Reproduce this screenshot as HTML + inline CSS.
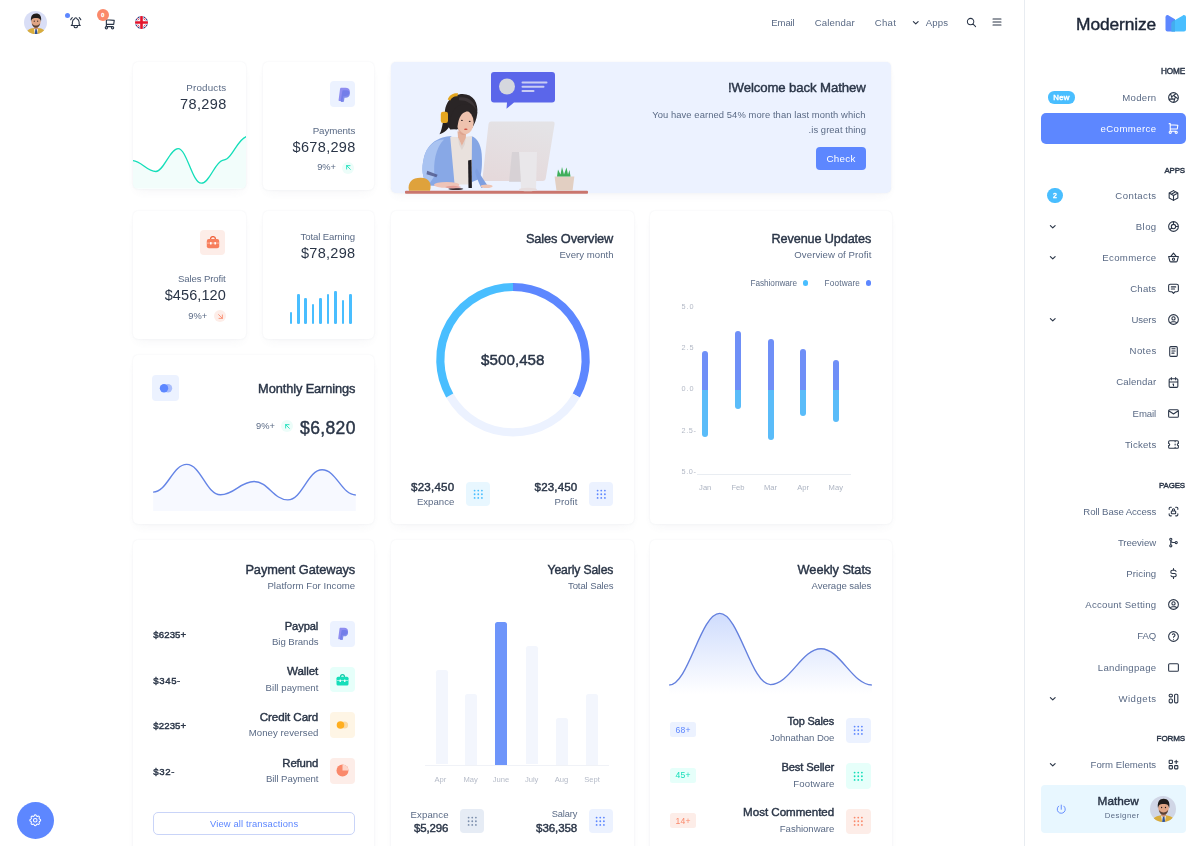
<!DOCTYPE html>
<html lang="en"><head><meta charset="utf-8"><title>Modernize</title><style>html,body{margin:0;padding:0;background:#fff;}
body{width:1200px;height:846px;overflow:hidden;position:relative;font-family:"Liberation Sans",sans-serif;}
.t{position:absolute;white-space:nowrap;margin:0;padding:0;}
#w{position:absolute;left:0;top:0;width:1200px;height:846px;opacity:.999;}
.b{position:absolute;display:block;}
</style></head><body><div id="w">
<svg class="b" style="left:23.5px;top:10.8px;" width="23.0" height="23.0" viewBox="0 0 24 24"><defs><clipPath id="av1"><circle cx="12" cy="12" r="12"/></clipPath></defs>
<g clip-path="url(#av1)"><rect width="24" height="24" fill="#d9def6"/>
<path d="M2.500 24c0-4.200 3.500-6.200 10-6.200s10 2 10 6.200z" fill="#d9ad3c"/>
<path d="M10.200 17.600h4.600l-1 6.400h-2.600z" fill="#f1f1ee"/><path d="M11.900 18.600h1.400l.7 5.400h-2.800z" fill="#2f5196"/>
<path d="M10.300 14h4.400v4.200c-1.200 1.200-3.200 1.200-4.400 0z" fill="#c98e70"/>
<ellipse cx="12.500" cy="11" rx="4.900" ry="5.900" fill="#e0a585"/>
<path d="M7.400 11.200C6.500 5.500 8.800 2.600 12.600 2.600s6.200 2.700 5.100 8.600c-.4-2.600-1.300-3.900-5.200-3.900s-4.700 1.300-5.100 3.900z" fill="#211d1b"/>
<path d="M8.300 12.800c.9 1.700 2.500 2.400 4.200 2.400s3.300-.7 4.200-2.400c0 2.900-1.800 4.600-4.200 4.600s-4.200-1.700-4.200-4.600z" fill="#3b2a22" opacity=".8"/>
<circle cx="10.700" cy="10.600" r=".6" fill="#231c19"/><circle cx="14.300" cy="10.600" r=".6" fill="#231c19"/></g></svg>
<svg class="b" style="left:68.5px;top:15.6px;" width="13.5" height="13.5" viewBox="0 0 24 24"><path d="M10 5a2 2 0 0 1 4 0a7 7 0 0 1 4 6v3a4 4 0 0 0 2 3h-16a4 4 0 0 0 2-3v-3a7 7 0 0 1 4-6 M9 17v1a3 3 0 0 0 6 0v-1 M21 6.727a11.05 11.05 0 0 0-2.794-3.727 M3 6.727a11.05 11.05 0 0 1 2.792-3.727" fill="none" stroke="#2a3547" stroke-width="1.95" stroke-linecap="round" stroke-linejoin="round"/></svg>
<div class="b" style="left:64.8px;top:12.8px;width:5.0px;height:5.0px;background:#5d87ff;border-radius:3px;"></div>
<svg class="b" style="left:103.2px;top:16.9px;" width="13.5" height="13.5" viewBox="0 0 24 24"><path d="M4 19a2 2 0 1 0 4 0a2 2 0 1 0-4 0 M15 19a2 2 0 1 0 4 0a2 2 0 1 0-4 0 M17 17h-11v-14h-2 M6 5l14 1l-1 7h-13" fill="none" stroke="#2a3547" stroke-width="2.0" stroke-linecap="round" stroke-linejoin="round"/></svg>
<div class="b" style="left:96.7px;top:9.3px;width:12.0px;height:12.0px;background:#fa896b;border-radius:6px;"></div>
<div class="t" style="left:101.3px;top:11.8px;font-size:5.16px;line-height:7px;font-weight:400;color:#fff;letter-spacing:-0.12px;-webkit-text-stroke:0.42px #fff;">0</div>
<svg class="b" style="left:134.8px;top:15.5px;" width="13.0" height="13.0" viewBox="0 0 24 24"><defs><clipPath id="fl"><circle cx="12" cy="12" r="12"/></clipPath></defs>
<g clip-path="url(#fl)"><rect width="24" height="24" fill="#1b2a78"/>
<path d="M0 0l24 24M24 0l-24 24" stroke="#fff" stroke-width="3.600"/>
<path d="M0 0l24 24M24 0l-24 24" stroke="#e3142c" stroke-width="1.300"/>
<path d="M12 0v24M0 12h24" stroke="#fff" stroke-width="8"/>
<path d="M12 0v24M0 12h24" stroke="#e3142c" stroke-width="4.800"/></g></svg>
<div class="t" style="left:771.3px;top:16.1px;font-size:9.55px;line-height:13px;font-weight:400;color:#5a6a85;letter-spacing:-0.12px;">Email</div>
<div class="t" style="left:814.8px;top:16.1px;font-size:9.60px;line-height:13px;font-weight:400;color:#5a6a85;letter-spacing:0.13px;">Calendar</div>
<div class="t" style="left:874.8px;top:16.1px;font-size:9.60px;line-height:13px;font-weight:400;color:#5a6a85;letter-spacing:0.27px;">Chat</div>
<svg class="b" style="left:910.5px;top:18.1px;" width="9.5" height="9.5" viewBox="0 0 24 24"><path d="M6 9l6 6l6-6" fill="none" stroke="#2a3547" stroke-width="2.9" stroke-linecap="round" stroke-linejoin="round"/></svg>
<div class="t" style="left:925.8px;top:16.1px;font-size:9.60px;line-height:13px;font-weight:400;color:#5a6a85;letter-spacing:0.11px;">Apps</div>
<svg class="b" style="left:966.0px;top:16.8px;" width="11.0" height="11.0" viewBox="0 0 24 24"><path d="M3 10a7 7 0 1 0 14 0a7 7 0 1 0-14 0 M21 21l-6-6" fill="none" stroke="#2a3547" stroke-width="2.2" stroke-linecap="round" stroke-linejoin="round"/></svg>
<svg class="b" style="left:990.8px;top:16.3px;" width="12.0" height="12.0" viewBox="0 0 24 24"><path d="M4 6l16 0 M4 12l16 0 M4 18l16 0" fill="none" stroke="#2a3547" stroke-width="2.1" stroke-linecap="round" stroke-linejoin="round"/></svg>
<div class="b" style="left:1024.0px;top:0.0px;width:1.0px;height:846.0px;background:#e8ecf1;border-radius:0px;"></div>
<div class="t" style="left:1076.1px;top:11.8px;font-size:17.39px;line-height:24px;font-weight:400;color:#1c2536;letter-spacing:-0.12px;-webkit-text-stroke:0.42px #1c2536;">Modernize</div>
<svg class="b" style="left:1163.5px;top:13.5px;" width="23.0" height="18.0" viewBox="0 0 23 18"><path d="M1.5 3.200C1.500 1.600 3.200 .6 4.600 1.400L11 5.200V17.500H3.500A2 2 0 0 1 1.500 15.500z" fill="#5d87ff"/>
<path d="M22 3.200c0-1.600-1.700-2.600-3.100-1.800L9 7.300c-.9.500-1.500 1.500-1.500 2.600V17.500H20a2 2 0 0 0 2-2z" fill="#49beff"/>
<path d="M11 5.200L9 6.400C8.100 6.900 7.500 7.900 7.500 9V17.500H11z" fill="#3e9fe0" opacity=".55"/></svg>
<div class="t" style="left:1160.9px;top:66.1px;font-size:8.20px;line-height:11px;font-weight:400;color:#2a3547;letter-spacing:-0.12px;-webkit-text-stroke:0.42px #2a3547;">HOME</div>
<div class="t" style="left:1164.4px;top:164.6px;font-size:7.91px;line-height:11px;font-weight:400;color:#2a3547;letter-spacing:-0.12px;-webkit-text-stroke:0.42px #2a3547;">APPS</div>
<div class="t" style="left:1158.9px;top:480.1px;font-size:7.93px;line-height:11px;font-weight:400;color:#2a3547;letter-spacing:-0.12px;-webkit-text-stroke:0.42px #2a3547;">PAGES</div>
<div class="t" style="left:1156.6px;top:733.3px;font-size:8.04px;line-height:11px;font-weight:400;color:#2a3547;letter-spacing:-0.12px;-webkit-text-stroke:0.42px #2a3547;">FORMS</div>
<div class="b" style="left:1041.0px;top:113.0px;width:145.0px;height:30.5px;background:#5d87ff;border-radius:5px;"></div>
<div class="t" style="left:1122.3px;top:90.7px;font-size:9.60px;line-height:13px;font-weight:400;color:#5a6a85;letter-spacing:0.27px;">Modern</div>
<svg class="b" style="left:1166.5px;top:90.9px;" width="13.0" height="13.0" viewBox="0 0 24 24"><path d="M3 12a9 9 0 1 0 18 0a9 9 0 1 0-18 0 M3.6 15h10.55 M6.551 4.938l3.26 10.034 M17.032 4.636l-8.535 6.201 M20.559 14.51l-8.535-6.201 M12.257 20.916l3.261-10.034" fill="none" stroke="#2a3547" stroke-width="2.0" stroke-linecap="round" stroke-linejoin="round"/></svg>
<div class="t" style="left:1100.5px;top:121.6px;font-size:9.60px;line-height:13px;font-weight:400;color:#fff;letter-spacing:0.43px;">eCommerce</div>
<svg class="b" style="left:1166.5px;top:121.8px;" width="13.0" height="13.0" viewBox="0 0 24 24"><path d="M4 19a2 2 0 1 0 4 0a2 2 0 1 0-4 0 M15 19a2 2 0 1 0 4 0a2 2 0 1 0-4 0 M17 17h-11v-14h-2 M6 5l14 1l-1 7h-13" fill="none" stroke="#fff" stroke-width="2.0" stroke-linecap="round" stroke-linejoin="round"/></svg>
<div class="t" style="left:1115.3px;top:188.8px;font-size:9.60px;line-height:13px;font-weight:400;color:#5a6a85;letter-spacing:0.43px;">Contacts</div>
<svg class="b" style="left:1166.5px;top:189.0px;" width="13.0" height="13.0" viewBox="0 0 24 24"><path d="M12 3l8 4.5v9l-8 4.5l-8-4.5v-9l8-4.5 M12 12l8-4.5 M12 12v9 M12 12l-8-4.5 M16 5.25l-8 4.5" fill="none" stroke="#2a3547" stroke-width="2.0" stroke-linecap="round" stroke-linejoin="round"/></svg>
<div class="t" style="left:1135.8px;top:219.9px;font-size:9.60px;line-height:13px;font-weight:400;color:#5a6a85;letter-spacing:0.40px;">Blog</div>
<svg class="b" style="left:1166.5px;top:220.1px;" width="13.0" height="13.0" viewBox="0 0 24 24"><path d="M12 3v5m4 4h5 M8.929 14.582l-3.429 2.918 M8 12a4 4 0 1 0 8 0a4 4 0 1 0-8 0 M3 12a9 9 0 1 0 18 0a9 9 0 1 0-18 0" fill="none" stroke="#2a3547" stroke-width="2.0" stroke-linecap="round" stroke-linejoin="round"/></svg>
<svg class="b" style="left:1048.0px;top:222.2px;" width="9.5" height="9.5" viewBox="0 0 24 24"><path d="M6 9l6 6l6-6" fill="none" stroke="#2a3547" stroke-width="2.9" stroke-linecap="round" stroke-linejoin="round"/></svg>
<div class="t" style="left:1102.3px;top:251.0px;font-size:9.60px;line-height:13px;font-weight:400;color:#5a6a85;letter-spacing:0.34px;">Ecommerce</div>
<svg class="b" style="left:1166.5px;top:251.2px;" width="13.0" height="13.0" viewBox="0 0 24 24"><path d="M7 10l5-6l5 6 M21 10l-2 8a2 2.5 0 0 1-2 2h-10a2 2.5 0 0 1-2-2l-2-8z M10 15a2 2 0 1 0 4 0a2 2 0 1 0-4 0" fill="none" stroke="#2a3547" stroke-width="2.0" stroke-linecap="round" stroke-linejoin="round"/></svg>
<svg class="b" style="left:1048.0px;top:253.2px;" width="9.5" height="9.5" viewBox="0 0 24 24"><path d="M6 9l6 6l6-6" fill="none" stroke="#2a3547" stroke-width="2.9" stroke-linecap="round" stroke-linejoin="round"/></svg>
<div class="t" style="left:1130.2px;top:282.1px;font-size:9.60px;line-height:13px;font-weight:400;color:#5a6a85;letter-spacing:0.23px;">Chats</div>
<svg class="b" style="left:1166.5px;top:282.3px;" width="13.0" height="13.0" viewBox="0 0 24 24"><path d="M8 9h8 M8 13h6 M9 18h-3a3 3 0 0 1-3-3v-8a3 3 0 0 1 3-3h12a3 3 0 0 1 3 3v8a3 3 0 0 1-3 3h-3l-3 3l-3-3z" fill="none" stroke="#2a3547" stroke-width="2.0" stroke-linecap="round" stroke-linejoin="round"/></svg>
<div class="t" style="left:1131.5px;top:313.2px;font-size:9.60px;line-height:13px;font-weight:400;color:#5a6a85;letter-spacing:-0.09px;">Users</div>
<svg class="b" style="left:1166.5px;top:313.4px;" width="13.0" height="13.0" viewBox="0 0 24 24"><path d="M3 12a9 9 0 1 0 18 0a9 9 0 1 0-18 0 M9 10a3 3 0 1 0 6 0a3 3 0 1 0-6 0 M6.168 18.849a4 4 0 0 1 3.832-2.849h4a4 4 0 0 1 3.834 2.855" fill="none" stroke="#2a3547" stroke-width="2.0" stroke-linecap="round" stroke-linejoin="round"/></svg>
<svg class="b" style="left:1048.0px;top:315.4px;" width="9.5" height="9.5" viewBox="0 0 24 24"><path d="M6 9l6 6l6-6" fill="none" stroke="#2a3547" stroke-width="2.9" stroke-linecap="round" stroke-linejoin="round"/></svg>
<div class="t" style="left:1129.6px;top:344.3px;font-size:9.60px;line-height:13px;font-weight:400;color:#5a6a85;letter-spacing:0.38px;">Notes</div>
<svg class="b" style="left:1166.5px;top:344.5px;" width="13.0" height="13.0" viewBox="0 0 24 24"><path d="M5 5a2 2 0 0 1 2-2h10a2 2 0 0 1 2 2v14a2 2 0 0 1-2 2h-10a2 2 0 0 1-2-2z M9 7h6 M9 11h6 M9 15h4" fill="none" stroke="#2a3547" stroke-width="2.0" stroke-linecap="round" stroke-linejoin="round"/></svg>
<div class="t" style="left:1116.3px;top:375.4px;font-size:9.60px;line-height:13px;font-weight:400;color:#5a6a85;letter-spacing:0.13px;">Calendar</div>
<svg class="b" style="left:1166.5px;top:375.6px;" width="13.0" height="13.0" viewBox="0 0 24 24"><path d="M4 7a2 2 0 0 1 2-2h12a2 2 0 0 1 2 2v12a2 2 0 0 1-2 2h-12a2 2 0 0 1-2-2z M16 3v4 M8 3v4 M4 11h16 M11 15h1 M12 15v3" fill="none" stroke="#2a3547" stroke-width="2.0" stroke-linecap="round" stroke-linejoin="round"/></svg>
<div class="t" style="left:1132.6px;top:406.5px;font-size:9.60px;line-height:13px;font-weight:400;color:#5a6a85;letter-spacing:-0.10px;">Email</div>
<svg class="b" style="left:1166.5px;top:406.7px;" width="13.0" height="13.0" viewBox="0 0 24 24"><path d="M3 7a2 2 0 0 1 2-2h14a2 2 0 0 1 2 2v10a2 2 0 0 1-2 2h-14a2 2 0 0 1-2-2v-10z M3 7l9 6l9-6" fill="none" stroke="#2a3547" stroke-width="2.0" stroke-linecap="round" stroke-linejoin="round"/></svg>
<div class="t" style="left:1124.9px;top:437.6px;font-size:9.60px;line-height:13px;font-weight:400;color:#5a6a85;letter-spacing:0.21px;">Tickets</div>
<svg class="b" style="left:1166.5px;top:437.8px;" width="13.0" height="13.0" viewBox="0 0 24 24"><path d="M15 5v2 M15 11v2 M15 17v2 M5 5h14a2 2 0 0 1 2 2v3a2 2 0 0 0 0 4v3a2 2 0 0 1-2 2h-14a2 2 0 0 1-2-2v-3a2 2 0 0 0 0-4v-3a2 2 0 0 1 2-2" fill="none" stroke="#2a3547" stroke-width="2.0" stroke-linecap="round" stroke-linejoin="round"/></svg>
<div class="t" style="left:1083.3px;top:504.7px;font-size:9.60px;line-height:13px;font-weight:400;color:#5a6a85;letter-spacing:-0.08px;">Roll Base Access</div>
<svg class="b" style="left:1166.5px;top:504.9px;" width="13.0" height="13.0" viewBox="0 0 24 24"><path d="M4 8v-2a2 2 0 0 1 2-2h2 M4 16v2a2 2 0 0 0 2 2h2 M16 4h2a2 2 0 0 1 2 2v2 M16 20h2a2 2 0 0 0 2-2v-2 M8 12a1 1 0 0 1 1-1h6a1 1 0 0 1 1 1v3a1 1 0 0 1-1 1h-6a1 1 0 0 1-1-1z M10 11v-2a2 2 0 1 1 4 0v2" fill="none" stroke="#2a3547" stroke-width="2.0" stroke-linecap="round" stroke-linejoin="round"/></svg>
<div class="t" style="left:1117.9px;top:535.7px;font-size:9.60px;line-height:13px;font-weight:400;color:#5a6a85;letter-spacing:-0.04px;">Treeview</div>
<svg class="b" style="left:1166.5px;top:535.9px;" width="13.0" height="13.0" viewBox="0 0 24 24"><path d="M5 18a2 2 0 1 0 4 0a2 2 0 1 0-4 0 M5 6a2 2 0 1 0 4 0a2 2 0 1 0-4 0 M15 12a2 2 0 1 0 4 0a2 2 0 1 0-4 0 M7 8l0 8 M7 8a4 4 0 0 0 4 4h4" fill="none" stroke="#2a3547" stroke-width="2.0" stroke-linecap="round" stroke-linejoin="round"/></svg>
<div class="t" style="left:1126.2px;top:566.9px;font-size:9.60px;line-height:13px;font-weight:400;color:#5a6a85;letter-spacing:0.11px;">Pricing</div>
<svg class="b" style="left:1166.5px;top:567.1px;" width="13.0" height="13.0" viewBox="0 0 24 24"><path d="M16.7 8a3 3 0 0 0-2.7-2h-4a3 3 0 0 0 0 6h4a3 3 0 0 1 0 6h-4a3 3 0 0 1-2.7-2 M12 3v3m0 12v3" fill="none" stroke="#2a3547" stroke-width="2.0" stroke-linecap="round" stroke-linejoin="round"/></svg>
<div class="t" style="left:1085.3px;top:598.2px;font-size:9.60px;line-height:13px;font-weight:400;color:#5a6a85;letter-spacing:0.26px;">Account Setting</div>
<svg class="b" style="left:1166.5px;top:598.4px;" width="13.0" height="13.0" viewBox="0 0 24 24"><path d="M3 12a9 9 0 1 0 18 0a9 9 0 1 0-18 0 M9 10a3 3 0 1 0 6 0a3 3 0 1 0-6 0 M6.168 18.849a4 4 0 0 1 3.832-2.849h4a4 4 0 0 1 3.834 2.855" fill="none" stroke="#2a3547" stroke-width="2.0" stroke-linecap="round" stroke-linejoin="round"/></svg>
<div class="t" style="left:1137.3px;top:629.3px;font-size:9.57px;line-height:13px;font-weight:400;color:#5a6a85;letter-spacing:-0.12px;">FAQ</div>
<svg class="b" style="left:1166.5px;top:629.5px;" width="13.0" height="13.0" viewBox="0 0 24 24"><path d="M3 12a9 9 0 1 0 18 0a9 9 0 1 0-18 0 M12 17l0 .01 M12 13.5a1.5 1.5 0 0 1 1-1.5a2.6 2.6 0 1 0-3-4" fill="none" stroke="#2a3547" stroke-width="2.0" stroke-linecap="round" stroke-linejoin="round"/></svg>
<div class="t" style="left:1097.8px;top:660.9px;font-size:9.60px;line-height:13px;font-weight:400;color:#5a6a85;letter-spacing:0.29px;">Landingpage</div>
<svg class="b" style="left:1166.5px;top:661.1px;" width="13.0" height="13.0" viewBox="0 0 24 24"><path d="M3 7a2 2 0 0 1 2-2h14a2 2 0 0 1 2 2v10a2 2 0 0 1-2 2h-14a2 2 0 0 1-2-2z" fill="none" stroke="#2a3547" stroke-width="2.0" stroke-linecap="round" stroke-linejoin="round"/></svg>
<div class="t" style="left:1118.4px;top:691.8px;font-size:9.60px;line-height:13px;font-weight:400;color:#5a6a85;letter-spacing:0.52px;">Widgets</div>
<svg class="b" style="left:1166.5px;top:692.0px;" width="13.0" height="13.0" viewBox="0 0 24 24"><path d="M4 6a2 2 0 0 1 2-2h2a2 2 0 0 1 2 2v1a2 2 0 0 1-2 2h-2a2 2 0 0 1-2-2z M4 15a2 2 0 0 1 2-2h2a2 2 0 0 1 2 2v3a2 2 0 0 1-2 2h-2a2 2 0 0 1-2-2z M14 6a2 2 0 0 1 2-2h2a2 2 0 0 1 2 2v12a2 2 0 0 1-2 2h-2a2 2 0 0 1-2-2z" fill="none" stroke="#2a3547" stroke-width="2.0" stroke-linecap="round" stroke-linejoin="round"/></svg>
<svg class="b" style="left:1048.0px;top:694.0px;" width="9.5" height="9.5" viewBox="0 0 24 24"><path d="M6 9l6 6l6-6" fill="none" stroke="#2a3547" stroke-width="2.9" stroke-linecap="round" stroke-linejoin="round"/></svg>
<div class="t" style="left:1090.5px;top:758.1px;font-size:9.60px;line-height:13px;font-weight:400;color:#5a6a85;letter-spacing:0.05px;">Form Elements</div>
<svg class="b" style="left:1166.5px;top:758.3px;" width="13.0" height="13.0" viewBox="0 0 24 24"><path d="M4 5a1 1 0 0 1 1-1h4a1 1 0 0 1 1 1v4a1 1 0 0 1-1 1h-4a1 1 0 0 1-1-1z M4 15a1 1 0 0 1 1-1h4a1 1 0 0 1 1 1v4a1 1 0 0 1-1 1h-4a1 1 0 0 1-1-1z M14 15a1 1 0 0 1 1-1h4a1 1 0 0 1 1 1v4a1 1 0 0 1-1 1h-4a1 1 0 0 1-1-1z M14 7l6 0 M17 4l0 6" fill="none" stroke="#2a3547" stroke-width="2.0" stroke-linecap="round" stroke-linejoin="round"/></svg>
<svg class="b" style="left:1048.0px;top:760.3px;" width="9.5" height="9.5" viewBox="0 0 24 24"><path d="M6 9l6 6l6-6" fill="none" stroke="#2a3547" stroke-width="2.9" stroke-linecap="round" stroke-linejoin="round"/></svg>
<div class="b" style="left:1047.5px;top:91.3px;width:27.5px;height:12.4px;background:#49beff;border-radius:6.2px;"></div>
<div class="t" style="left:1053.3px;top:91.9px;font-size:7.80px;line-height:11px;font-weight:400;color:#fff;letter-spacing:0.27px;-webkit-text-stroke:0.42px #fff;">New</div>
<div class="b" style="left:1047.0px;top:187.6px;width:15.6px;height:15.6px;background:#49beff;border-radius:7.8px;"></div>
<div class="t" style="left:1052.9px;top:190.5px;font-size:6.95px;line-height:10px;font-weight:400;color:#fff;letter-spacing:-0.12px;-webkit-text-stroke:0.42px #fff;">2</div>
<div class="b" style="left:1041.0px;top:785.0px;width:144.5px;height:47.5px;background:#e8f7ff;border-radius:4px;"></div>
<div class="t" style="left:1097.6px;top:793.1px;font-size:11.80px;line-height:17px;font-weight:400;color:#2a3547;letter-spacing:-0.01px;-webkit-text-stroke:0.42px #2a3547;">Mathew</div>
<div class="t" style="left:1104.8px;top:810.1px;font-size:7.80px;line-height:11px;font-weight:400;color:#5a6a85;letter-spacing:0.43px;">Designer</div>
<svg class="b" style="left:1150.0px;top:796.0px;" width="26.0" height="26.0" viewBox="0 0 24 24"><defs><clipPath id="av2"><circle cx="12" cy="12" r="12"/></clipPath></defs>
<g clip-path="url(#av2)"><rect width="24" height="24" fill="#d0d6e6"/>
<path d="M2.500 24c0-4.200 3.500-6.200 10-6.200s10 2 10 6.200z" fill="#d9ad3c"/>
<path d="M10.200 17.600h4.600l-1 6.400h-2.600z" fill="#f1f1ee"/><path d="M11.900 18.600h1.400l.7 5.400h-2.800z" fill="#2f5196"/>
<path d="M10.300 14h4.400v4.200c-1.200 1.200-3.200 1.200-4.400 0z" fill="#c98e70"/>
<ellipse cx="12.500" cy="11" rx="4.900" ry="5.900" fill="#e0a585"/>
<path d="M7.400 11.200C6.500 5.500 8.800 2.600 12.600 2.600s6.200 2.700 5.100 8.600c-.4-2.600-1.300-3.900-5.200-3.900s-4.700 1.300-5.100 3.900z" fill="#211d1b"/>
<path d="M8.300 12.800c.9 1.700 2.500 2.400 4.200 2.400s3.300-.7 4.200-2.400c0 2.900-1.800 4.600-4.200 4.600s-4.200-1.700-4.200-4.600z" fill="#3b2a22" opacity=".8"/>
<circle cx="10.700" cy="10.600" r=".6" fill="#231c19"/><circle cx="14.300" cy="10.600" r=".6" fill="#231c19"/></g></svg>
<svg class="b" style="left:1054.8px;top:803.2px;" width="12.5" height="12.5" viewBox="0 0 24 24"><path d="M7 6a7.75 7.75 0 1 0 10 0 M12 4l0 8" fill="none" stroke="#5d87ff" stroke-width="1.8" stroke-linecap="round" stroke-linejoin="round"/></svg>
<div class="b" style="left:16.5px;top:801.5px;width:37.0px;height:37.0px;background:#5d87ff;border-radius:18.5px;"></div>
<svg class="b" style="left:27.8px;top:812.8px;" width="14.5" height="14.5" viewBox="0 0 24 24"><path d="M10.325 4.317c.426-1.756 2.924-1.756 3.35 0a1.724 1.724 0 0 0 2.573 1.066c1.543-.94 3.31.826 2.37 2.37a1.724 1.724 0 0 0 1.065 2.572c1.756.426 1.756 2.924 0 3.35a1.724 1.724 0 0 0-1.066 2.573c.94 1.543-.826 3.31-2.37 2.37a1.724 1.724 0 0 0-2.572 1.065c-.426 1.756-2.924 1.756-3.35 0a1.724 1.724 0 0 0-2.573-1.066c-1.543.94-3.31-.826-2.37-2.37a1.724 1.724 0 0 0-1.065-2.572c-1.756-.426-1.756-2.924 0-3.35a1.724 1.724 0 0 0 1.066-2.573c-.94-1.543.826-3.31 2.37-2.37c1 .608 2.296.07 2.572-1.065z M9 12a3 3 0 1 0 6 0a3 3 0 0 0-6 0" fill="none" stroke="#fff" stroke-width="1.7" stroke-linecap="round" stroke-linejoin="round"/></svg>
<div class="b" style="left:133.0px;top:62.0px;width:113.0px;height:126.5px;background:#fff;border-radius:5px;box-shadow:0 0 2px rgba(145,158,171,.16),0 5px 12px -4px rgba(145,158,171,.11);"></div>
<div class="t" style="left:186.2px;top:81.0px;font-size:9.80px;line-height:14px;font-weight:400;color:#5a6a85;letter-spacing:0.20px;">Products</div>
<div class="t" style="left:180.0px;top:94.0px;font-size:14.50px;line-height:20px;font-weight:400;color:#2a3547;letter-spacing:0.39px;">78,298</div>
<svg class="b" style="left:133.0px;top:130.0px;border-radius:0 0 5px 5px;overflow:hidden;" width="113.0" height="58.5" viewBox="0 0 113 58.5"><path d="M-0.4 30.6 C8 30.6 14 41.5 22.9 41.5 C30.5 41.5 37 18.7 45.1 18.7 C54 18.7 59 53.2 68.4 53.2 C76.5 53.2 82 32 89.5 30.3 C91.5 29.9 92.8 29.5 94 28.7 C100.5 24.5 105 9.5 113.2 6.6 L113.2 58.5 L-0.4 58.5Z" fill="#13deb9" opacity=".055"/><path d="M-0.4 30.6 C8 30.6 14 41.5 22.9 41.5 C30.5 41.5 37 18.7 45.1 18.7 C54 18.7 59 53.2 68.4 53.2 C76.5 53.2 82 32 89.5 30.3 C91.5 29.9 92.8 29.5 94 28.7 C100.5 24.5 105 9.5 113.2 6.6" fill="none" stroke="#13deb9" stroke-width="1.3"/></svg>
<div class="b" style="left:262.5px;top:62.0px;width:111.5px;height:127.5px;background:#fff;border-radius:5px;box-shadow:0 0 2px rgba(145,158,171,.16),0 5px 12px -4px rgba(145,158,171,.11);"></div>
<div class="b" style="left:329.7px;top:81.4px;width:25.6px;height:25.8px;background:#ecf2ff;border-radius:4px;"></div>
<svg class="b" style="left:335.5px;top:86.5px;" width="15.0" height="16.0" viewBox="0 0 15 16"><path d="M4 2.200c0-.8.600-1.400 1.400-1.400H9.500c2.700 0 4.500 1.500 4.300 4c-.2 2.800-2.100 4.400-5 4.400H7.300L6.600 13c-.1.600-.6 1-1.200 1H3.500c-.6 0-1-.5-.9-1.100z" fill="#8e8df0"/>
<path d="M6.300 4.500c0-.7.500-1.200 1.200-1.200H10.500c2.200 0 3.600 1.300 3.400 3.500c-.2 2.500-1.900 3.900-4.400 3.900H8.500L8 14c-.1.600-.6 1-1.200 1H5.500c-.5 0-.9-.5-.8-1z" fill="#6f7be8" opacity=".85"/></svg>
<div class="t" style="left:312.7px;top:123.5px;font-size:9.77px;line-height:14px;font-weight:400;color:#5a6a85;letter-spacing:-0.12px;">Payments</div>
<div class="t" style="left:292.6px;top:136.5px;font-size:14.50px;line-height:20px;font-weight:400;color:#2a3547;letter-spacing:0.32px;">$678,298</div>
<div class="t" style="left:317.2px;top:161.3px;font-size:9.30px;line-height:13px;font-weight:400;color:#5a6a85;letter-spacing:-0.04px;">9%+</div>
<div class="b" style="left:342.3px;top:161.8px;width:12.0px;height:12.0px;background:#ecfdf9;border-radius:6px;"></div>
<svg class="b" style="left:343.8px;top:163.3px;" width="9.0" height="9.0" viewBox="0 0 24 24"><path d="M7 7l10 10 M16 7l-9 0l0 9" fill="none" stroke="#13deb9" stroke-width="2.3" stroke-linecap="round" stroke-linejoin="round"/></svg>
<div class="b" style="left:391.0px;top:62.0px;width:500.3px;height:130.9px;background:#ecf2ff;border-radius:5px;box-shadow:0 0 2px rgba(145,158,171,.16),0 5px 12px -4px rgba(145,158,171,.11);"></div>
<div class="t" style="left:728.0px;top:79.2px;font-size:13.20px;line-height:18px;font-weight:400;color:#2a3547;letter-spacing:-0.11px;-webkit-text-stroke:0.42px #2a3547;">!Welcome back Mathew</div>
<div class="t" style="left:652.2px;top:108.1px;font-size:9.40px;line-height:13px;font-weight:400;color:#5a6a85;letter-spacing:0.09px;">You have earned 54% more than last month which</div>
<div class="t" style="left:808.6px;top:122.5px;font-size:9.40px;line-height:13px;font-weight:400;color:#5a6a85;letter-spacing:0.07px;">.is great thing</div>
<div class="b" style="left:815.8px;top:146.9px;width:50.2px;height:23.4px;background:#5d87ff;border-radius:4px;"></div>
<div class="t" style="left:826.5px;top:151.5px;font-size:9.80px;line-height:14px;font-weight:400;color:#fff;letter-spacing:0.26px;">Check</div>
<svg class="b" style="left:400.0px;top:66.0px;" width="200.0" height="130.0" viewBox="0 0 200 130"><rect x="5" y="124.80000000000001" width="183" height="3" rx="1" fill="#c9756d"/><path d="M95.0 6.0 H152.0 a3 3 0 0 1 3 3 V33.5 a3 3 0 0 1 -3 3 H114.0 L106.5 42.8 L107.0 36.5 H94.0 a3 3 0 0 1 -3 -3 V9.0 a3 3 0 0 1 3 -3z" fill="#5b66ea"/><circle cx="107" cy="20.5" r="8" fill="#d5d7de"/><rect x="121.5" y="15.5" width="26" height="2" rx="1" fill="#c9ccf3"/><rect x="121.5" y="19.799999999999997" width="23" height="2" rx="1" fill="#c9ccf3"/><rect x="121.5" y="24.099999999999994" width="13" height="2" rx="1" fill="#c9ccf3"/><defs><linearGradient id="mg" x1="0.6" y1="0" x2="0.3" y2="1"><stop offset="0" stop-color="#e4e3e6"/><stop offset="1" stop-color="#e5d9db"/></linearGradient></defs><path d="M91.0 55.5 L153.0 55.5 Q155.0 55.5 154.6 58.0 L145.8 112.0 Q145.4 115.0 142.8 115.0 L84.5 115.0 Q82.0 115.0 82.5 112.5 L88.5 58.0 Q88.8 55.5 91.0 55.5z" fill="url(#mg)"/><path d="M119.0 86.0 L137.0 86.0 L136.0 123.0 L121.0 123.0z" fill="#e9e7ea"/><path d="M112.0 86.0 L119.0 86.0 L121.0 116.0 L109.0 116.0z" fill="#d2cdd2" opacity=".7"/><ellipse cx="128" cy="123.5" rx="9" ry="1.800" fill="#e6ddde"/><path d="M48.0 45.0 C41.5 52.8 43.4 61.9 39.5 68.2 C46.7 66.1 50.6 60.6 50.9 54.8 Z" fill="#231f20" opacity="1"/><path d="M46.7 58.0 C42.1 45.0 46.0 31.0 59.0 28.4 C72.0 26.2 78.8 35.9 77.2 47.9 C76.7 53.1 74.6 58.0 72.0 62.2 L50.2 63.5 Z" fill="#2a2526" opacity="1"/><path d="M51.2 70.0 C39.5 70.8 27.8 76.2 23.9 91.8 C21.3 102.2 22.0 112.6 27.8 119.4 L55.4 120.7 C54.1 103.5 53.6 84.0 51.2 70.0 Z" fill="#88a8e6" opacity="1"/><path d="M44.1 73.4 C35.6 81.4 33.0 97.0 34.6 110.0 L28.1 119.4 C22.0 112.6 21.3 102.2 23.9 91.8 C26.5 80.1 34.6 73.6 44.1 73.4 Z" fill="#a9c3f1" opacity="1"/><path d="M71.0 70.0 C78.5 72.1 81.9 81.4 81.9 91.8 C82.3 102.2 81.1 110.0 79.3 112.9 L72.0 115.9 C69.9 97.0 69.9 84.0 71.0 70.0 Z" fill="#86a6e4" opacity="1"/><path d="M50.2 70.8 L58.0 71.0 L61.9 80.1 L65.8 70.8 L72.0 70.0 L71.6 118.5 L54.6 118.5 Z" fill="#e9e1dd" opacity="1"/><path d="M58.0 71.0 L61.9 80.1 L65.8 70.8 L64.9 78.2 L61.9 84.0 L59.0 78.2 Z" fill="#d9cfcb" opacity="0.7"/><path d="M68.1 94.4 L71.5 93.8 L71.9 122.0 L68.5 122.0 Z" fill="#1f1d22" opacity="1"/><path d="M57.5 65.2 L66.3 66.5 L65.8 71.7 L61.9 79.9 L58.0 71.3 Z" fill="#e4b19c" opacity="1"/><ellipse cx="65.1" cy="56.5" rx="8.6" ry="11.7" fill="#eec2ae" opacity="1"/><path d="M57.7 61.9 C59.0 68.4 62.9 70.0 65.8 68.2 C62.9 67.4 59.7 64.8 57.7 61.9 Z" fill="#d99a86" opacity="0.6"/><path d="M50.9 62.6 C48.9 51.5 52.5 40.8 61.9 38.5 C68.4 37.2 75.1 39.8 77.5 47.3 C72.3 44.0 67.1 44.5 63.2 47.1 C59.0 50.2 58.0 56.7 57.2 63.5 Z" fill="#2a2526" opacity="1"/><path d="M59.0 31.4 C66.8 30.1 74.6 34.6 76.2 43.7 C72.0 37.2 65.5 34.0 59.0 34.3 Z" fill="#4a4445" opacity="0.55"/><ellipse cx="61.9" cy="54.4" rx="0.9" ry="0.7" fill="#3a2a2a" opacity="1"/><ellipse cx="69.7" cy="55.4" rx="0.9" ry="0.7" fill="#3a2a2a" opacity="1"/><ellipse cx="65.8" cy="63.2" rx="1.8" ry="0.8" fill="#cf4a3d" opacity="1"/><path d="M47.7 33.6 C49.1 28.9 53.8 26.5 58.0 27.3 L57.5 30.2 C54.1 29.9 51.2 31.5 50.2 34.6 Z" fill="#e3a620" opacity="1"/><rect x="40.8" y="45.7" width="7.2" height="11.2" rx="2.200" fill="#e5a722"/><path d="M76.7 102.2 C80.9 110.0 84.8 115.5 87.6 119.4 L81.4 122.0 C78.5 116.8 75.9 110.0 75.1 105.1 Z" fill="#7f9fe0" opacity="1"/><ellipse cx="86.6" cy="120.2" rx="6.0" ry="1.7" fill="#efc4b3" opacity="1"/><path d="M27.2 104.8 L37.6 108.7 L36.4 111.3 L26.5 108.2 Z" fill="#4d5588" opacity="0.8"/><ellipse cx="55.8" cy="123.0" rx="7.5" ry="0.9" fill="#3a2f35" opacity="1"/><ellipse cx="46.7" cy="118.9" rx="12.7" ry="2.9" fill="#efc4b8" opacity="1"/><ellipse cx="53.2" cy="121.1" rx="7.8" ry="1.3" fill="#e2938c" opacity="0.8"/><path d="M9.0 124.8 C7.0 116.0 13.0 111.5 21.0 111.8 C29.0 112.0 32.0 117.0 30.0 124.8z" fill="#dfa23c"/><path d="M154.6 110.5 L174.3 110.5 L172.5 124.8 L156.5 124.8z" fill="#e2cfc2"/><path d="M157.0 110.5 L158.0 103.5 L160.5 108.5 L162.0 101.0 L164.0 108.5 L166.5 101.5 L168.0 108.5 L169.5 104.0 L170.5 110.5z" fill="#3fae5a"/></svg>
<div class="b" style="left:133.0px;top:210.5px;width:113.0px;height:128.5px;background:#fff;border-radius:5px;box-shadow:0 0 2px rgba(145,158,171,.16),0 5px 12px -4px rgba(145,158,171,.11);"></div>
<div class="b" style="left:200.2px;top:230.3px;width:25.1px;height:25.0px;background:#fdede8;border-radius:4px;"></div>
<svg class="b" style="left:206.0px;top:236.0px;" width="14.0" height="13.0" viewBox="0 0 14 13"><path d="M4.500 3.200C4.500 1.600 5.600 .6 7 .6s2.500 1 2.500 2.600" fill="none" stroke="#f0643f" stroke-width="1.300"/>
<rect x=".8" y="3" width="12.400" height="9.200" rx="2" fill="#f77e5c"/>
<path d="M.8 6.500h12.400v1.200H.8z" fill="#fbb29b" opacity=".9"/><rect x="4" y="6" width="1.600" height="2.600" rx=".6" fill="#fff"/><rect x="8.400" y="6" width="1.600" height="2.600" rx=".6" fill="#fff"/></svg>
<div class="t" style="left:178.0px;top:272.3px;font-size:9.61px;line-height:13px;font-weight:400;color:#5a6a85;letter-spacing:-0.12px;">Sales Profit</div>
<div class="t" style="left:164.7px;top:285.0px;font-size:14.50px;line-height:20px;font-weight:400;color:#2a3547;letter-spacing:0.09px;">$456,120</div>
<div class="t" style="left:188.3px;top:309.9px;font-size:9.30px;line-height:13px;font-weight:400;color:#5a6a85;letter-spacing:0.06px;">9%+</div>
<div class="b" style="left:214.0px;top:310.4px;width:12.0px;height:12.0px;background:#fdede8;border-radius:6px;"></div>
<svg class="b" style="left:215.5px;top:311.9px;" width="9.0" height="9.0" viewBox="0 0 24 24"><path d="M7 7l10 10 M17 8l0 9l-9 0" fill="none" stroke="#fa896b" stroke-width="2.3" stroke-linecap="round" stroke-linejoin="round"/></svg>
<div class="b" style="left:262.5px;top:210.5px;width:111.5px;height:128.5px;background:#fff;border-radius:5px;box-shadow:0 0 2px rgba(145,158,171,.16),0 5px 12px -4px rgba(145,158,171,.11);"></div>
<div class="t" style="left:300.5px;top:230.1px;font-size:9.60px;line-height:13px;font-weight:400;color:#5a6a85;letter-spacing:-0.12px;">Total Earning</div>
<div class="t" style="left:301.0px;top:243.0px;font-size:14.50px;line-height:20px;font-weight:400;color:#2a3547;letter-spacing:0.28px;">$78,298</div>
<div class="b" style="left:289.5px;top:312.2px;width:2.6px;height:11.4px;background:#49beff;border-radius:1.3px;"></div>
<div class="b" style="left:297.0px;top:294.3px;width:2.6px;height:29.3px;background:#49beff;border-radius:1.3px;"></div>
<div class="b" style="left:304.4px;top:297.5px;width:2.6px;height:26.1px;background:#49beff;border-radius:1.3px;"></div>
<div class="b" style="left:311.9px;top:303.6px;width:2.6px;height:20.0px;background:#49beff;border-radius:1.3px;"></div>
<div class="b" style="left:319.4px;top:297.5px;width:2.6px;height:26.1px;background:#49beff;border-radius:1.3px;"></div>
<div class="b" style="left:326.8px;top:294.3px;width:2.6px;height:29.3px;background:#49beff;border-radius:1.3px;"></div>
<div class="b" style="left:334.3px;top:291.4px;width:2.6px;height:32.2px;background:#49beff;border-radius:1.3px;"></div>
<div class="b" style="left:341.8px;top:300.3px;width:2.6px;height:23.3px;background:#49beff;border-radius:1.3px;"></div>
<div class="b" style="left:349.3px;top:294.3px;width:2.6px;height:29.3px;background:#49beff;border-radius:1.3px;"></div>
<div class="b" style="left:133.0px;top:355.0px;width:241.0px;height:169.0px;background:#fff;border-radius:5px;box-shadow:0 0 2px rgba(145,158,171,.16),0 5px 12px -4px rgba(145,158,171,.11);"></div>
<div class="b" style="left:152.4px;top:375.3px;width:26.4px;height:26.0px;background:#ecf2ff;border-radius:4px;"></div>
<svg class="b" style="left:158.5px;top:383.0px;" width="14.0" height="10.5" viewBox="0 0 14 10.500"><circle cx="9" cy="5.200" r="4.200" fill="#a9bdfb"/><circle cx="5" cy="5.200" r="4.200" fill="#5d87ff"/></svg>
<div class="t" style="left:258.1px;top:379.6px;font-size:12.80px;line-height:18px;font-weight:400;color:#2a3547;letter-spacing:-0.10px;-webkit-text-stroke:0.42px #2a3547;">Monthly Earnings</div>
<div class="t" style="left:300.1px;top:415.8px;font-size:17.50px;line-height:24px;font-weight:400;color:#2a3547;letter-spacing:0.36px;-webkit-text-stroke:0.42px #2a3547;">$6,820</div>
<div class="t" style="left:256.0px;top:419.8px;font-size:9.30px;line-height:13px;font-weight:400;color:#5a6a85;letter-spacing:0.06px;">9%+</div>
<div class="b" style="left:281.0px;top:420.3px;width:12.0px;height:12.0px;background:#ecfdf9;border-radius:6px;"></div>
<svg class="b" style="left:282.5px;top:421.8px;" width="9.0" height="9.0" viewBox="0 0 24 24"><path d="M7 7l10 10 M16 7l-9 0l0 9" fill="none" stroke="#13deb9" stroke-width="2.3" stroke-linecap="round" stroke-linejoin="round"/></svg>
<svg class="b" style="left:152.0px;top:455.0px;" width="206.0" height="58.0" viewBox="0 0 206 58"><path d="M1.1 37.1 C15.2 37.1 20.6 9.4 34.7 9.4 C48.9 9.4 54.3 39.8 68.4 39.8 C82.6 39.8 88.0 26.5 102.1 26.5 C116.2 26.5 121.6 44.9 135.8 44.9 C150.2 44.9 155.7 14.8 170.1 14.8 C184.3 14.8 189.7 40.0 203.8 40.0 L203.8 56 L1.1 56Z" fill="#5d87ff" opacity=".05"/><path d="M1.1 37.1 C15.2 37.1 20.6 9.4 34.7 9.4 C48.9 9.4 54.3 39.8 68.4 39.8 C82.6 39.8 88.0 26.5 102.1 26.5 C116.2 26.5 121.6 44.9 135.8 44.9 C150.2 44.9 155.7 14.8 170.1 14.8 C184.3 14.8 189.7 40.0 203.8 40.0" fill="none" stroke="#6484e6" stroke-width="1.4"/></svg>
<div class="b" style="left:391.0px;top:210.5px;width:242.5px;height:313.0px;background:#fff;border-radius:5px;box-shadow:0 0 2px rgba(145,158,171,.16),0 5px 12px -4px rgba(145,158,171,.11);"></div>
<div class="t" style="left:525.9px;top:230.0px;font-size:12.80px;line-height:18px;font-weight:400;color:#2a3547;letter-spacing:-0.11px;-webkit-text-stroke:0.42px #2a3547;">Sales Overview</div>
<div class="t" style="left:559.4px;top:247.7px;font-size:9.60px;line-height:13px;font-weight:400;color:#5a6a85;letter-spacing:0.03px;">Every month</div>
<svg class="b" style="left:420.0px;top:270.0px;" width="190.0" height="180.0" viewBox="0 0 190 180"><path d="M93.00 17.00 A72.7 72.7 0 0 1 156.27 125.50" fill="none" stroke="#5d87ff" stroke-width="8.2"/><path d="M156.27 125.50 A72.7 72.7 0 0 1 29.73 125.50" fill="none" stroke="#ecf2ff" stroke-width="8.2"/><path d="M29.73 125.50 A72.7 72.7 0 0 1 93.00 17.00" fill="none" stroke="#49beff" stroke-width="8.2"/></svg>
<div class="t" style="left:481.1px;top:349.0px;font-size:15.20px;line-height:21px;font-weight:400;color:#2a3547;letter-spacing:0.01px;-webkit-text-stroke:0.42px #2a3547;">$500,458</div>
<div class="t" style="left:411.1px;top:479.2px;font-size:11.60px;line-height:16px;font-weight:400;color:#2a3547;letter-spacing:0.19px;-webkit-text-stroke:0.42px #2a3547;">$23,450</div>
<div class="t" style="left:416.9px;top:494.8px;font-size:9.60px;line-height:13px;font-weight:400;color:#5a6a85;letter-spacing:0.01px;">Expance</div>
<div class="b" style="left:466.3px;top:482.4px;width:24.0px;height:24.0px;background:#e8f7ff;border-radius:4px;"></div>
<svg class="b" style="left:472.1px;top:488.1px;" width="12.5" height="12.5" viewBox="0 0 24 24"><circle cx="5" cy="5" r="1.75" fill="#49beff"/><circle cx="5" cy="12" r="1.75" fill="#49beff"/><circle cx="5" cy="19" r="1.75" fill="#49beff"/><circle cx="12" cy="5" r="1.75" fill="#49beff"/><circle cx="12" cy="12" r="1.75" fill="#49beff"/><circle cx="12" cy="19" r="1.75" fill="#49beff"/><circle cx="19" cy="5" r="1.75" fill="#49beff"/><circle cx="19" cy="12" r="1.75" fill="#49beff"/><circle cx="19" cy="19" r="1.75" fill="#49beff"/></svg>
<div class="t" style="left:534.6px;top:479.2px;font-size:11.60px;line-height:16px;font-weight:400;color:#2a3547;letter-spacing:0.12px;-webkit-text-stroke:0.42px #2a3547;">$23,450</div>
<div class="t" style="left:554.4px;top:494.8px;font-size:9.60px;line-height:13px;font-weight:400;color:#5a6a85;letter-spacing:0.12px;">Profit</div>
<div class="b" style="left:589.0px;top:482.4px;width:24.0px;height:24.0px;background:#ecf2ff;border-radius:4px;"></div>
<svg class="b" style="left:594.8px;top:488.1px;" width="12.5" height="12.5" viewBox="0 0 24 24"><circle cx="5" cy="5" r="1.75" fill="#5d87ff"/><circle cx="5" cy="12" r="1.75" fill="#5d87ff"/><circle cx="5" cy="19" r="1.75" fill="#5d87ff"/><circle cx="12" cy="5" r="1.75" fill="#5d87ff"/><circle cx="12" cy="12" r="1.75" fill="#5d87ff"/><circle cx="12" cy="19" r="1.75" fill="#5d87ff"/><circle cx="19" cy="5" r="1.75" fill="#5d87ff"/><circle cx="19" cy="12" r="1.75" fill="#5d87ff"/><circle cx="19" cy="19" r="1.75" fill="#5d87ff"/></svg>
<div class="b" style="left:649.5px;top:210.5px;width:242.0px;height:313.5px;background:#fff;border-radius:5px;box-shadow:0 0 2px rgba(145,158,171,.16),0 5px 12px -4px rgba(145,158,171,.11);"></div>
<div class="t" style="left:771.6px;top:230.0px;font-size:12.66px;line-height:18px;font-weight:400;color:#2a3547;letter-spacing:-0.12px;-webkit-text-stroke:0.42px #2a3547;">Revenue Updates</div>
<div class="t" style="left:794.3px;top:247.7px;font-size:9.60px;line-height:13px;font-weight:400;color:#5a6a85;letter-spacing:0.08px;">Overview of Profit</div>
<div class="t" style="left:750.5px;top:277.5px;font-size:8.20px;line-height:11px;font-weight:400;color:#5a6a85;letter-spacing:-0.03px;">Fashionware</div>
<div class="b" style="left:802.6px;top:280.3px;width:5.4px;height:5.4px;background:#49beff;border-radius:3px;"></div>
<div class="t" style="left:824.6px;top:277.5px;font-size:8.20px;line-height:11px;font-weight:400;color:#5a6a85;letter-spacing:0.17px;">Footware</div>
<div class="b" style="left:866.1px;top:280.3px;width:5.4px;height:5.4px;background:#5d87ff;border-radius:3px;"></div>
<div class="t" style="left:681.5px;top:301.8px;font-size:7.30px;line-height:10px;font-weight:400;color:#b3b9c6;letter-spacing:0.93px;">5.0</div>
<div class="t" style="left:681.5px;top:343.2px;font-size:7.30px;line-height:10px;font-weight:400;color:#b3b9c6;letter-spacing:0.93px;">2.5</div>
<div class="t" style="left:681.5px;top:384.4px;font-size:7.30px;line-height:10px;font-weight:400;color:#b3b9c6;letter-spacing:0.93px;">0.0</div>
<div class="t" style="left:681.5px;top:425.6px;font-size:7.30px;line-height:10px;font-weight:400;color:#b3b9c6;letter-spacing:0.64px;">2.5-</div>
<div class="t" style="left:681.5px;top:467.0px;font-size:7.30px;line-height:10px;font-weight:400;color:#b3b9c6;letter-spacing:0.64px;">5.0-</div>
<div class="b" style="left:697.4px;top:473.5px;width:153.9px;height:0.8px;background:#e9edf2;border-radius:0px;"></div>
<div class="b" style="left:702.2px;top:350.6px;width:6.0px;height:39.7px;background:#6f8ff7;border-radius:0px;border-radius:3px 3px 0 0;"></div>
<div class="b" style="left:702.2px;top:390.3px;width:6.0px;height:46.7px;background:#5abcf9;border-radius:0px;border-radius:0 0 3px 3px;"></div>
<div class="b" style="left:734.9px;top:330.7px;width:6.0px;height:59.6px;background:#6f8ff7;border-radius:0px;border-radius:3px 3px 0 0;"></div>
<div class="b" style="left:734.9px;top:390.3px;width:6.0px;height:18.5px;background:#5abcf9;border-radius:0px;border-radius:0 0 3px 3px;"></div>
<div class="b" style="left:767.5px;top:338.7px;width:6.0px;height:51.6px;background:#6f8ff7;border-radius:0px;border-radius:3px 3px 0 0;"></div>
<div class="b" style="left:767.5px;top:390.3px;width:6.0px;height:49.9px;background:#5abcf9;border-radius:0px;border-radius:0 0 3px 3px;"></div>
<div class="b" style="left:800.2px;top:349.0px;width:6.0px;height:41.3px;background:#6f8ff7;border-radius:0px;border-radius:3px 3px 0 0;"></div>
<div class="b" style="left:800.2px;top:390.3px;width:6.0px;height:25.4px;background:#5abcf9;border-radius:0px;border-radius:0 0 3px 3px;"></div>
<div class="b" style="left:832.8px;top:360.3px;width:6.0px;height:30.0px;background:#6f8ff7;border-radius:0px;border-radius:3px 3px 0 0;"></div>
<div class="b" style="left:832.8px;top:390.3px;width:6.0px;height:32.1px;background:#5abcf9;border-radius:0px;border-radius:0 0 3px 3px;"></div>
<div class="t" style="left:699.1px;top:482.3px;font-size:7.60px;line-height:11px;font-weight:400;color:#adb4c2;letter-spacing:0.00px;">Jan</div>
<div class="t" style="left:731.4px;top:482.3px;font-size:7.60px;line-height:11px;font-weight:400;color:#adb4c2;letter-spacing:-0.00px;">Feb</div>
<div class="t" style="left:764.0px;top:482.3px;font-size:7.60px;line-height:11px;font-weight:400;color:#adb4c2;letter-spacing:0.00px;">Mar</div>
<div class="t" style="left:797.3px;top:482.3px;font-size:7.60px;line-height:11px;font-weight:400;color:#adb4c2;letter-spacing:0.00px;">Apr</div>
<div class="t" style="left:828.6px;top:482.3px;font-size:7.60px;line-height:11px;font-weight:400;color:#adb4c2;letter-spacing:-0.00px;">May</div>
<div class="b" style="left:133.0px;top:540.0px;width:241.0px;height:360.0px;background:#fff;border-radius:5px;box-shadow:0 0 2px rgba(145,158,171,.16),0 5px 12px -4px rgba(145,158,171,.11);"></div>
<div class="t" style="left:245.4px;top:561.0px;font-size:12.80px;line-height:18px;font-weight:400;color:#2a3547;letter-spacing:-0.08px;-webkit-text-stroke:0.42px #2a3547;">Payment Gateways</div>
<div class="t" style="left:267.4px;top:578.8px;font-size:9.60px;line-height:13px;font-weight:400;color:#5a6a85;letter-spacing:0.05px;">Platform For Income</div>
<div class="t" style="left:284.8px;top:617.8px;font-size:11.17px;line-height:16px;font-weight:400;color:#2a3547;letter-spacing:-0.12px;-webkit-text-stroke:0.42px #2a3547;">Paypal</div>
<div class="t" style="left:272.0px;top:635.1px;font-size:9.60px;line-height:13px;font-weight:400;color:#5a6a85;letter-spacing:-0.05px;">Big Brands</div>
<div class="t" style="left:153.3px;top:627.9px;font-size:9.60px;line-height:13px;font-weight:400;color:#2a3547;letter-spacing:0.11px;-webkit-text-stroke:0.42px #2a3547;">$6235+</div>
<div class="b" style="left:329.6px;top:621.0px;width:25.6px;height:25.8px;background:#ecf2ff;border-radius:4px;"></div>
<svg class="b" style="left:335.9px;top:626.9px;" width="13.0" height="14.0" viewBox="0 0 15 16"><path d="M4 2.200c0-.8.600-1.400 1.400-1.400H9.500c2.700 0 4.500 1.500 4.300 4c-.2 2.800-2.100 4.400-5 4.400H7.300L6.600 13c-.1.600-.6 1-1.200 1H3.500c-.6 0-1-.5-.9-1.100z" fill="#8e8df0"/>
<path d="M6.300 4.500c0-.7.500-1.200 1.200-1.200H10.500c2.200 0 3.600 1.300 3.400 3.500c-.2 2.500-1.900 3.900-4.400 3.900H8.500L8 14c-.1.600-.6 1-1.200 1H5.500c-.5 0-.9-.5-.8-1z" fill="#6f7be8" opacity=".85"/></svg>
<div class="t" style="left:287.1px;top:663.4px;font-size:11.60px;line-height:16px;font-weight:400;color:#2a3547;letter-spacing:-0.11px;-webkit-text-stroke:0.42px #2a3547;">Wallet</div>
<div class="t" style="left:265.5px;top:680.7px;font-size:9.60px;line-height:13px;font-weight:400;color:#5a6a85;letter-spacing:0.06px;">Bill payment</div>
<div class="t" style="left:153.3px;top:673.5px;font-size:9.60px;line-height:13px;font-weight:400;color:#2a3547;letter-spacing:0.62px;-webkit-text-stroke:0.42px #2a3547;">$345-</div>
<div class="b" style="left:329.6px;top:666.6px;width:25.6px;height:25.8px;background:#e6fffa;border-radius:4px;"></div>
<svg class="b" style="left:335.9px;top:673.5px;" width="13.0" height="12.0" viewBox="0 0 13 12"><path d="M4.500 3C4.500 1.500 5.500 .6 6.500 .6s2 .9 2 2.400" fill="none" stroke="#10c9a7" stroke-width="1.200"/>
<rect x=".5" y="2.800" width="12" height="8.700" rx="1.500" fill="#13deb9"/><path d="M.5 6h12v1H.5z" fill="#8ff0dd"/><rect x="3.500" y="5.500" width="1.500" height="2.400" rx=".5" fill="#e6fffa"/><rect x="8" y="5.500" width="1.500" height="2.400" rx=".5" fill="#e6fffa"/></svg>
<div class="t" style="left:259.7px;top:709.0px;font-size:11.60px;line-height:16px;font-weight:400;color:#2a3547;letter-spacing:-0.07px;-webkit-text-stroke:0.42px #2a3547;">Credit Card</div>
<div class="t" style="left:248.7px;top:726.3px;font-size:9.60px;line-height:13px;font-weight:400;color:#5a6a85;letter-spacing:0.07px;">Money reversed</div>
<div class="t" style="left:153.3px;top:719.1px;font-size:9.60px;line-height:13px;font-weight:400;color:#2a3547;letter-spacing:0.11px;-webkit-text-stroke:0.42px #2a3547;">$2235+</div>
<div class="b" style="left:329.6px;top:712.2px;width:25.6px;height:25.8px;background:#fef5e5;border-radius:4px;"></div>
<svg class="b" style="left:335.9px;top:721.1px;" width="13.0" height="8.0" viewBox="0 0 13 8"><circle cx="8.500" cy="4" r="3.600" fill="#fbd9a0"/><circle cx="4.500" cy="4" r="3.800" fill="#ffae1f"/></svg>
<div class="t" style="left:282.3px;top:754.6px;font-size:11.36px;line-height:16px;font-weight:400;color:#2a3547;letter-spacing:-0.12px;-webkit-text-stroke:0.42px #2a3547;">Refund</div>
<div class="t" style="left:266.0px;top:771.9px;font-size:9.60px;line-height:13px;font-weight:400;color:#5a6a85;letter-spacing:-0.08px;">Bill Payment</div>
<div class="t" style="left:153.3px;top:764.7px;font-size:9.60px;line-height:13px;font-weight:400;color:#2a3547;letter-spacing:0.61px;-webkit-text-stroke:0.42px #2a3547;">$32-</div>
<div class="b" style="left:329.6px;top:757.8px;width:25.6px;height:25.8px;background:#fdede8;border-radius:4px;"></div>
<svg class="b" style="left:335.9px;top:764.2px;" width="13.0" height="13.0" viewBox="0 0 13 13"><circle cx="6.500" cy="6.500" r="6" fill="#fa896b"/><path d="M6.500 6.500V.5A6 6 0 0 1 12.500 6.500z" fill="#fdd5c9"/></svg>
<div class="b" style="left:152.7px;top:811.7px;width:202.5px;height:23.7px;background:#fff;border-radius:5px;border:1px solid #c9d4f8;box-sizing:border-box;"></div>
<div class="t" style="left:210.0px;top:817.3px;font-size:9.40px;line-height:13px;font-weight:400;color:#5d87ff;letter-spacing:0.14px;">View all transactions</div>
<div class="b" style="left:391.0px;top:540.0px;width:242.5px;height:360.0px;background:#fff;border-radius:5px;box-shadow:0 0 2px rgba(145,158,171,.16),0 5px 12px -4px rgba(145,158,171,.11);"></div>
<div class="t" style="left:547.6px;top:561.5px;font-size:12.16px;line-height:17px;font-weight:400;color:#2a3547;letter-spacing:-0.12px;-webkit-text-stroke:0.42px #2a3547;">Yearly Sales</div>
<div class="t" style="left:568.0px;top:578.8px;font-size:9.57px;line-height:13px;font-weight:400;color:#5a6a85;letter-spacing:-0.12px;">Total Sales</div>
<div class="b" style="left:436.0px;top:670.4px;width:12.0px;height:94.1px;background:#f3f6fd;border-radius:0px;border-radius:2.500px 2.500px 0 0;"></div>
<div class="b" style="left:465.0px;top:694.0px;width:12.0px;height:70.5px;background:#f3f6fd;border-radius:0px;border-radius:2.500px 2.500px 0 0;"></div>
<div class="b" style="left:495.2px;top:622.0px;width:12.0px;height:142.5px;background:#6e95fa;border-radius:0px;border-radius:2.500px 2.500px 0 0;"></div>
<div class="b" style="left:526.4px;top:646.4px;width:12.0px;height:118.1px;background:#f3f6fd;border-radius:0px;border-radius:2.500px 2.500px 0 0;"></div>
<div class="b" style="left:556.1px;top:718.0px;width:12.0px;height:46.5px;background:#f3f6fd;border-radius:0px;border-radius:2.500px 2.500px 0 0;"></div>
<div class="b" style="left:586.0px;top:694.0px;width:12.0px;height:70.5px;background:#f3f6fd;border-radius:0px;border-radius:2.500px 2.500px 0 0;"></div>
<div class="b" style="left:424.5px;top:765.0px;width:184.5px;height:0.8px;background:#f0f2f7;border-radius:0px;"></div>
<div class="t" style="left:434.4px;top:773.5px;font-size:7.60px;line-height:11px;font-weight:400;color:#b5bbc8;letter-spacing:-0.00px;">Apr</div>
<div class="t" style="left:463.4px;top:773.5px;font-size:7.60px;line-height:11px;font-weight:400;color:#b5bbc8;letter-spacing:-0.00px;">May</div>
<div class="t" style="left:492.8px;top:773.5px;font-size:7.60px;line-height:11px;font-weight:400;color:#b5bbc8;letter-spacing:0.00px;">June</div>
<div class="t" style="left:524.9px;top:773.5px;font-size:7.60px;line-height:11px;font-weight:400;color:#b5bbc8;letter-spacing:0.00px;">July</div>
<div class="t" style="left:554.8px;top:773.5px;font-size:7.60px;line-height:11px;font-weight:400;color:#b5bbc8;letter-spacing:-0.00px;">Aug</div>
<div class="t" style="left:584.2px;top:773.5px;font-size:7.60px;line-height:11px;font-weight:400;color:#b5bbc8;letter-spacing:-0.00px;">Sept</div>
<div class="t" style="left:410.6px;top:808.1px;font-size:9.60px;line-height:13px;font-weight:400;color:#5a6a85;letter-spacing:0.09px;">Expance</div>
<div class="t" style="left:413.9px;top:820.4px;font-size:11.46px;line-height:16px;font-weight:400;color:#2a3547;letter-spacing:-0.12px;-webkit-text-stroke:0.42px #2a3547;">$5,296</div>
<div class="b" style="left:460.2px;top:809.4px;width:23.6px;height:23.6px;background:#e6ecf5;border-radius:4px;"></div>
<svg class="b" style="left:465.8px;top:815.0px;" width="12.5" height="12.5" viewBox="0 0 24 24"><circle cx="5" cy="5" r="1.75" fill="#7c8fac"/><circle cx="5" cy="12" r="1.75" fill="#7c8fac"/><circle cx="5" cy="19" r="1.75" fill="#7c8fac"/><circle cx="12" cy="5" r="1.75" fill="#7c8fac"/><circle cx="12" cy="12" r="1.75" fill="#7c8fac"/><circle cx="12" cy="19" r="1.75" fill="#7c8fac"/><circle cx="19" cy="5" r="1.75" fill="#7c8fac"/><circle cx="19" cy="12" r="1.75" fill="#7c8fac"/><circle cx="19" cy="19" r="1.75" fill="#7c8fac"/></svg>
<div class="t" style="left:551.8px;top:808.1px;font-size:9.24px;line-height:13px;font-weight:400;color:#5a6a85;letter-spacing:-0.12px;">Salary</div>
<div class="t" style="left:536.1px;top:820.4px;font-size:11.58px;line-height:16px;font-weight:400;color:#2a3547;letter-spacing:-0.12px;-webkit-text-stroke:0.42px #2a3547;">$36,358</div>
<div class="b" style="left:588.7px;top:809.4px;width:23.9px;height:23.6px;background:#ecf2ff;border-radius:4px;"></div>
<svg class="b" style="left:594.4px;top:815.0px;" width="12.5" height="12.5" viewBox="0 0 24 24"><circle cx="5" cy="5" r="1.75" fill="#5d87ff"/><circle cx="5" cy="12" r="1.75" fill="#5d87ff"/><circle cx="5" cy="19" r="1.75" fill="#5d87ff"/><circle cx="12" cy="5" r="1.75" fill="#5d87ff"/><circle cx="12" cy="12" r="1.75" fill="#5d87ff"/><circle cx="12" cy="19" r="1.75" fill="#5d87ff"/><circle cx="19" cy="5" r="1.75" fill="#5d87ff"/><circle cx="19" cy="12" r="1.75" fill="#5d87ff"/><circle cx="19" cy="19" r="1.75" fill="#5d87ff"/></svg>
<div class="b" style="left:649.5px;top:540.0px;width:242.0px;height:360.0px;background:#fff;border-radius:5px;box-shadow:0 0 2px rgba(145,158,171,.16),0 5px 12px -4px rgba(145,158,171,.11);"></div>
<div class="t" style="left:797.6px;top:561.0px;font-size:12.80px;line-height:18px;font-weight:400;color:#2a3547;letter-spacing:-0.07px;-webkit-text-stroke:0.42px #2a3547;">Weekly Stats</div>
<div class="t" style="left:811.6px;top:579.0px;font-size:9.60px;line-height:13px;font-weight:400;color:#5a6a85;letter-spacing:-0.07px;">Average sales</div>
<svg class="b" style="left:660.0px;top:600.0px;" width="220.0" height="95.0" viewBox="0 0 220 95"><defs><linearGradient id="wg" x1="0" y1="0" x2="0" y2="1"><stop offset="0" stop-color="#cfdcfd"/><stop offset="1" stop-color="#ffffff"/></linearGradient></defs>
<path d="M9.2 85.0 C28.4 85.0 40.5 13.4 59.7 13.4 C79.0 13.4 91.1 84.6 110.4 84.6 C129.6 84.6 141.8 48.7 161.0 48.7 C180.3 48.7 192.5 85.0 211.8 85.0 L211.8 94 L9.2 94Z" fill="url(#wg)"/><path d="M9.2 85.0 C28.4 85.0 40.5 13.4 59.7 13.4 C79.0 13.4 91.1 84.6 110.4 84.6 C129.6 84.6 141.8 48.7 161.0 48.7 C180.3 48.7 192.5 85.0 211.8 85.0" fill="none" stroke="#6480de" stroke-width="1.4"/></svg>
<div class="t" style="left:787.4px;top:714.1px;font-size:10.89px;line-height:15px;font-weight:400;color:#2a3547;letter-spacing:-0.12px;-webkit-text-stroke:0.42px #2a3547;">Top Sales</div>
<div class="t" style="left:770.0px;top:731.1px;font-size:9.60px;line-height:13px;font-weight:400;color:#5a6a85;letter-spacing:-0.06px;">Johnathan Doe</div>
<div class="b" style="left:845.8px;top:717.8px;width:25.6px;height:25.4px;background:#ecf2ff;border-radius:4px;"></div>
<svg class="b" style="left:852.4px;top:724.2px;" width="12.5" height="12.5" viewBox="0 0 24 24"><circle cx="5" cy="5" r="1.75" fill="#5d87ff"/><circle cx="5" cy="12" r="1.75" fill="#5d87ff"/><circle cx="5" cy="19" r="1.75" fill="#5d87ff"/><circle cx="12" cy="5" r="1.75" fill="#5d87ff"/><circle cx="12" cy="12" r="1.75" fill="#5d87ff"/><circle cx="12" cy="19" r="1.75" fill="#5d87ff"/><circle cx="19" cy="5" r="1.75" fill="#5d87ff"/><circle cx="19" cy="12" r="1.75" fill="#5d87ff"/><circle cx="19" cy="19" r="1.75" fill="#5d87ff"/></svg>
<div class="b" style="left:669.7px;top:722.4px;width:26.3px;height:15.0px;background:#ecf2ff;border-radius:2.5px;"></div>
<div class="t" style="left:675.6px;top:724.0px;font-size:8.60px;line-height:12px;font-weight:400;color:#5d87ff;letter-spacing:0.16px;">68+</div>
<div class="t" style="left:781.4px;top:759.0px;font-size:11.18px;line-height:16px;font-weight:400;color:#2a3547;letter-spacing:-0.12px;-webkit-text-stroke:0.42px #2a3547;">Best Seller</div>
<div class="t" style="left:793.2px;top:776.5px;font-size:9.60px;line-height:13px;font-weight:400;color:#5a6a85;letter-spacing:0.17px;">Footware</div>
<div class="b" style="left:845.8px;top:763.2px;width:25.6px;height:25.4px;background:#e6fffa;border-radius:4px;"></div>
<svg class="b" style="left:852.4px;top:769.6px;" width="12.5" height="12.5" viewBox="0 0 24 24"><circle cx="5" cy="5" r="1.75" fill="#13deb9"/><circle cx="5" cy="12" r="1.75" fill="#13deb9"/><circle cx="5" cy="19" r="1.75" fill="#13deb9"/><circle cx="12" cy="5" r="1.75" fill="#13deb9"/><circle cx="12" cy="12" r="1.75" fill="#13deb9"/><circle cx="12" cy="19" r="1.75" fill="#13deb9"/><circle cx="19" cy="5" r="1.75" fill="#13deb9"/><circle cx="19" cy="12" r="1.75" fill="#13deb9"/><circle cx="19" cy="19" r="1.75" fill="#13deb9"/></svg>
<div class="b" style="left:669.7px;top:767.8px;width:26.3px;height:15.0px;background:#e6fffa;border-radius:2.5px;"></div>
<div class="t" style="left:675.6px;top:769.4px;font-size:8.60px;line-height:12px;font-weight:400;color:#13deb9;letter-spacing:0.16px;">45+</div>
<div class="t" style="left:743.1px;top:804.4px;font-size:11.60px;line-height:16px;font-weight:400;color:#2a3547;letter-spacing:-0.03px;-webkit-text-stroke:0.42px #2a3547;">Most Commented</div>
<div class="t" style="left:779.8px;top:821.9px;font-size:9.60px;line-height:13px;font-weight:400;color:#5a6a85;letter-spacing:-0.04px;">Fashionware</div>
<div class="b" style="left:845.8px;top:808.6px;width:25.6px;height:25.4px;background:#fdede8;border-radius:4px;"></div>
<svg class="b" style="left:852.4px;top:815.0px;" width="12.5" height="12.5" viewBox="0 0 24 24"><circle cx="5" cy="5" r="1.75" fill="#fa896b"/><circle cx="5" cy="12" r="1.75" fill="#fa896b"/><circle cx="5" cy="19" r="1.75" fill="#fa896b"/><circle cx="12" cy="5" r="1.75" fill="#fa896b"/><circle cx="12" cy="12" r="1.75" fill="#fa896b"/><circle cx="12" cy="19" r="1.75" fill="#fa896b"/><circle cx="19" cy="5" r="1.75" fill="#fa896b"/><circle cx="19" cy="12" r="1.75" fill="#fa896b"/><circle cx="19" cy="19" r="1.75" fill="#fa896b"/></svg>
<div class="b" style="left:669.7px;top:813.2px;width:26.3px;height:15.0px;background:#fdede8;border-radius:2.5px;"></div>
<div class="t" style="left:675.6px;top:814.8px;font-size:8.60px;line-height:12px;font-weight:400;color:#fa896b;letter-spacing:0.16px;">14+</div>
</div></body></html>
